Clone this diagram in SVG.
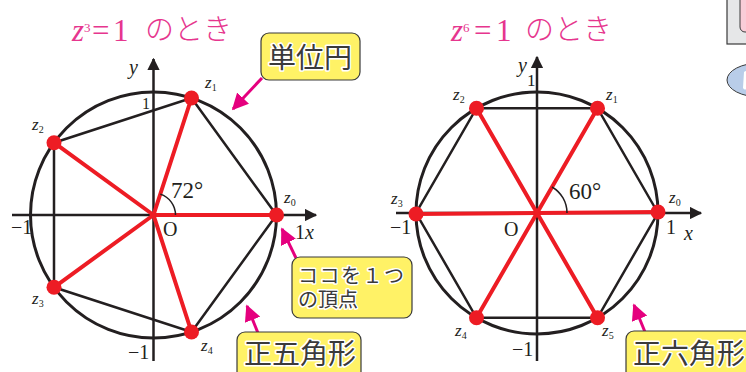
<svg xmlns="http://www.w3.org/2000/svg" width="746" height="372" viewBox="0 0 746 372">
<defs>
<style>
.circ{fill:none;stroke:#231f20;stroke-width:3}
.edge{fill:none;stroke:#231f20;stroke-width:2.5}
.axis{stroke:#231f20;stroke-width:2.5}
.red{stroke:#ed1c24;stroke-width:4;stroke-linecap:round}
.dot{fill:#ed1c24}
.arc{fill:none;stroke:#231f20;stroke-width:1.5}
.title{fill:#e6368e;font-family:"Liberation Serif",serif}
.tj{fill:#e6368e;font-family:"Noto Sans CJK JP",sans-serif;font-weight:300}
.lab{fill:#231f20;font-family:"Liberation Serif",serif}
.zl{fill:#231f20;font-family:"Liberation Serif",serif;font-size:17px;font-style:italic}
.sub{font-size:10px;font-style:normal}
.box{fill:#fff266;stroke:#3a3a3a;stroke-width:1.2}
.bt{fill:#3a3a3a;font-family:"Noto Sans CJK JP",sans-serif;stroke:#fff;stroke-width:3;paint-order:stroke;stroke-linejoin:round}
.pk{stroke:#e5007e;stroke-width:3}
</style>
<marker id="ah" viewBox="0 0 10 10" refX="9" refY="5" markerWidth="5" markerHeight="5" orient="auto" markerUnits="strokeWidth">
<path d="M0,0 L10,5 L0,10 z" fill="#231f20"/>
</marker>
<marker id="pa" viewBox="0 0 10 10" refX="9" refY="5" markerWidth="5.5" markerHeight="5.5" orient="auto" markerUnits="strokeWidth">
<path d="M0,0 L10,5 L0,10 z" fill="#e5007e"/>
</marker>
</defs>

<!-- partial elements top right -->
<g id="edge-elements">
<rect x="727" y="-10" width="30" height="54" fill="#e6e7e8" stroke="#3a3a3a" stroke-width="1.2"/>
<rect x="740" y="-10" width="20" height="42" rx="5" fill="#f9cdd8" stroke="#3a3a3a" stroke-width="1"/>
<ellipse cx="760" cy="80" rx="33" ry="17" fill="#b9cde9" stroke="#3a3a3a" stroke-width="1"/>
<path d="M744,72 q3,-3 4,2 l-1,14 q-2,3 -4,0 z" fill="#fff"/>
</g>

<!-- Left diagram -->
<g id="title-left">
<text class="title" x="72" y="41" font-style="italic" font-size="31">z</text>
<text class="title" x="84" y="32" font-size="13">3</text>
<text class="title" x="92" y="41" font-size="31">=</text>
<text class="title" x="113" y="41" font-size="31">1</text>
<text class="tj" x="145" y="40" font-size="29">のとき</text>
</g>
<g id="axes-left">
<line class="axis" x1="12" y1="215" x2="316" y2="215" marker-end="url(#ah)"/>
<line class="axis" x1="153.5" y1="361" x2="153.5" y2="59" marker-end="url(#ah)"/>
</g>
<g id="circle-left"><circle class="circ" cx="153.5" cy="215" r="123"/></g>
<g id="connectors-left">
<polygon class="edge" points="276.5,215 191.5,98 54,142.7 54,287.3 191.5,332"/>
<line class="red" x1="153.5" y1="215" x2="276.5" y2="215"/>
<line class="red" x1="153.5" y1="215" x2="191.5" y2="98"/>
<line class="red" x1="153.5" y1="215" x2="54" y2="142.7"/>
<line class="red" x1="153.5" y1="215" x2="54" y2="287.3"/>
<line class="red" x1="153.5" y1="215" x2="191.5" y2="332"/>
<path class="arc" d="M175.5,215 A22,22 0 0 0 160.3,194.1"/>
</g>
<g id="z0-left"><circle class="dot" cx="276.5" cy="215" r="7.5"/><text class="zl" x="284" y="203">z<tspan class="sub" dy="3">0</tspan></text></g>
<g id="z1-left"><circle class="dot" cx="191.5" cy="98" r="7.5"/><text class="zl" x="205" y="88">z<tspan class="sub" dy="3">1</tspan></text></g>
<g id="z2-left"><circle class="dot" cx="54" cy="142.7" r="7.5"/><text class="zl" x="32" y="130">z<tspan class="sub" dy="3">2</tspan></text></g>
<g id="z3-left"><circle class="dot" cx="54" cy="287.3" r="7.5"/><text class="zl" x="32" y="304">z<tspan class="sub" dy="3">3</tspan></text></g>
<g id="z4-left"><circle class="dot" cx="191.5" cy="332" r="7.5"/><text class="zl" x="201" y="351">z<tspan class="sub" dy="3">4</tspan></text></g>
<g id="labels-left">
<text class="lab" x="129" y="74" font-size="20" font-style="italic">y</text>
<text class="lab" x="142" y="109" font-size="16">1</text>
<text class="lab" x="171" y="198" font-size="23">72°</text>
<text class="lab" x="163" y="236" font-size="20">O</text>
<text class="lab" x="11" y="234" font-size="20">−1</text>
<text class="lab" x="295" y="239" font-size="20">1<tspan font-style="italic">x</tspan></text>
<text class="lab" x="128" y="359" font-size="20">−1</text>
</g>

<!-- Callouts left -->
<g id="callout-unit-circle">
<line class="pk" x1="262" y1="78" x2="233" y2="109" marker-end="url(#pa)"/>
<rect class="box" x="261" y="33" width="99" height="47" rx="8"/>
<text class="bt" x="268" y="68" font-size="28">単位円</text>
</g>
<g id="callout-vertex">
<line class="pk" x1="296" y1="258" x2="282" y2="229" marker-end="url(#pa)"/>
<rect class="box" x="292" y="257" width="120" height="61" rx="8"/>
<text class="bt" font-size="20"><tspan x="298" y="283" letter-spacing="1.5">ココを１つ</tspan><tspan x="298" y="307">の頂点</tspan></text>
</g>
<g id="callout-pentagon">
<line class="pk" x1="258" y1="333" x2="247" y2="306" marker-end="url(#pa)" stroke="#d6338c"/>
<rect class="box" x="237" y="332" width="124" height="50" rx="8"/>
<text class="bt" x="244" y="364" font-size="28">正五角形</text>
</g>

<!-- Right diagram -->
<g id="title-right">
<text class="title" x="451" y="41" font-style="italic" font-size="31">z</text>
<text class="title" x="463" y="32" font-size="13">6</text>
<text class="title" x="474" y="41" font-size="31">=</text>
<text class="title" x="496" y="41" font-size="31">1</text>
<text class="tj" x="525" y="40" font-size="29">のとき</text>
</g>
<g id="axes-right">
<line class="axis" x1="396" y1="213" x2="701" y2="213" marker-end="url(#ah)"/>
<line class="axis" x1="537" y1="361" x2="537" y2="57" marker-end="url(#ah)"/>
</g>
<g id="circle-right"><circle class="circ" cx="537" cy="213" r="121"/></g>
<g id="connectors-right">
<polygon class="edge" points="658,213 597.5,108.2 476.5,108.2 416,213 476.5,317.8 597.5,317.8"/>
<line class="red" x1="416" y1="214" x2="658" y2="212"/>
<line class="red" x1="597.5" y1="108.2" x2="476.5" y2="317.8"/>
<line class="red" x1="476.5" y1="108.2" x2="597.5" y2="317.8"/>
<path class="arc" d="M567,213 A30,30 0 0 0 552,187"/>
</g>
<g id="z0-right"><circle class="dot" cx="658" cy="212" r="7.5"/><text class="zl" x="669" y="203">z<tspan class="sub" dy="3">0</tspan></text></g>
<g id="z1-right"><circle class="dot" cx="597.5" cy="108.2" r="7.5"/><text class="zl" x="606" y="100">z<tspan class="sub" dy="3">1</tspan></text></g>
<g id="z2-right"><circle class="dot" cx="476.5" cy="108.2" r="7.5"/><text class="zl" x="453" y="100">z<tspan class="sub" dy="3">2</tspan></text></g>
<g id="z3-right"><circle class="dot" cx="416" cy="214" r="7.5"/><text class="zl" x="391" y="204">z<tspan class="sub" dy="3">3</tspan></text></g>
<g id="z4-right"><circle class="dot" cx="476.5" cy="317.8" r="7.5"/><text class="zl" x="455" y="336">z<tspan class="sub" dy="3">4</tspan></text></g>
<g id="z5-right"><circle class="dot" cx="597.5" cy="317.8" r="7.5"/><text class="zl" x="602" y="336">z<tspan class="sub" dy="3">5</tspan></text></g>
<g id="labels-right">
<text class="lab" x="518" y="72" font-size="20" font-style="italic">y</text>
<text class="lab" x="527" y="86" font-size="17">1</text>
<text class="lab" x="569" y="199" font-size="23">60°</text>
<text class="lab" x="504" y="236" font-size="20">O</text>
<text class="lab" x="390" y="234" font-size="20">−1</text>
<text class="lab" x="666" y="234" font-size="20">1</text>
<text class="lab" x="684" y="240" font-size="20" font-style="italic">x</text>
<text class="lab" x="512" y="356" font-size="20">−1</text>
</g>
<g id="callout-hexagon">
<line class="pk" x1="645" y1="332" x2="634" y2="305" marker-end="url(#pa)"/>
<rect class="box" x="626" y="331" width="130" height="50" rx="8"/>
<text class="bt" x="633" y="364" font-size="28">正六角形</text>
</g>
</svg>
